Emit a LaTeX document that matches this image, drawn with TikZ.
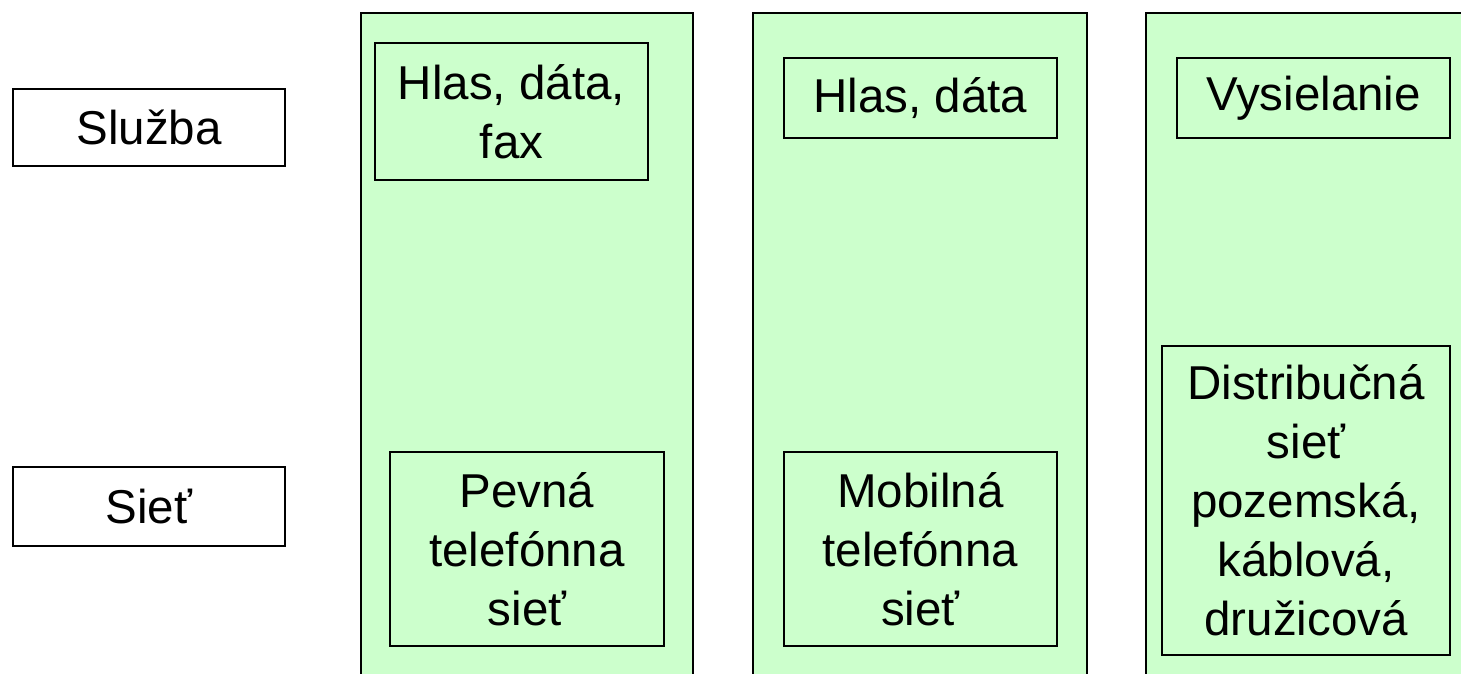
\documentclass[tikz,border=0pt]{standalone}
\usepackage{fontspec}
\setmainfont{Liberation Sans}
\usepackage{tikz}
\usetikzlibrary{positioning}
\definecolor{zelena}{HTML}{CCFFCC}
\tikzset{box/.style={draw,line width=1.4pt,align=center,inner sep=0pt,font=\fontsize{47.5}{59}\selectfont}}

\begin{document}
\begin{tikzpicture}[x=1pt,y=-1pt]
	\useasboundingbox (0,0) rectangle (1461,674);
	\clip (0,0) rectangle (1461,674);
	% stlpce
	\foreach \xa/\xb in {361/693,753/1087,1146/1500}
		\draw[fill=zelena,line width=1.4pt] (\xa,13) rectangle (\xb,700);
	% riadky
	\node[box,minimum width=272,minimum height=77] (sluzba) at (149,127.5) {Služba};
	\node[box,minimum width=272,minimum height=79] (siet) at (149,506.5) {Sieť};
	% sluzby
	\node[box,minimum width=273,minimum height=137] (hlasfax) at (511.5,111.5) {Hlas, dáta,\\fax};
	\node[box,minimum width=273,minimum height=80] (hlas) at (920.5,98) {Hlas, dáta};
	\node[box,minimum width=273,minimum height=80] (vysielanie) at (1313.5,98) {Vysielanie};
	% siete
	\node[box,minimum width=274,minimum height=194] (pevna) at (527,549) {Pevná\\telefónna\\sieť};
	\node[box,minimum width=273,minimum height=194] (mobilna) at (920.5,549) {Mobilná\\telefónna\\sieť};
	\node[box,minimum width=288,minimum height=309] (distrib) at (1306,500.5) {Distribučná\\sieť\\pozemská,\\káblová,\\družicová};
\end{tikzpicture}
\end{document}
